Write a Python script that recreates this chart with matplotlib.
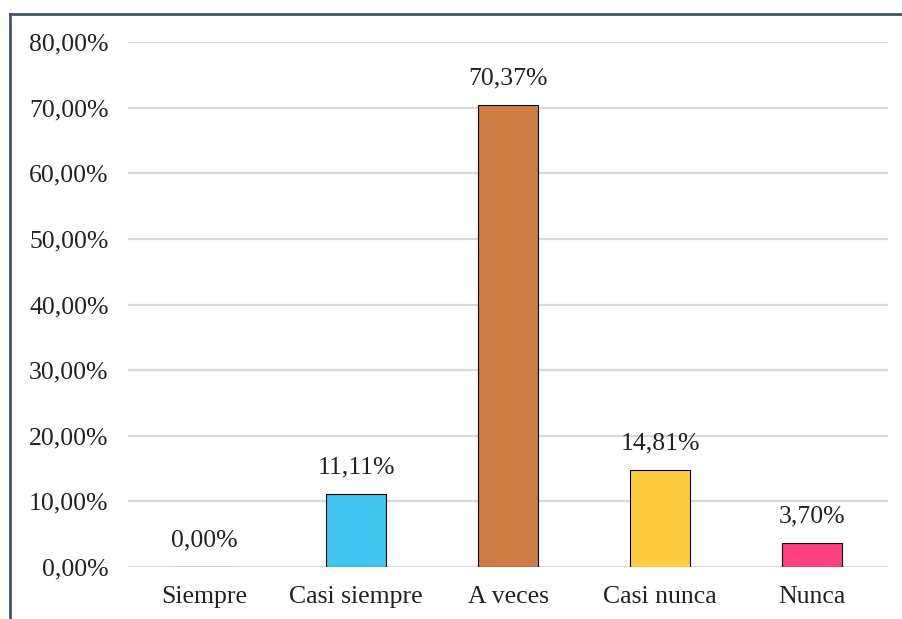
import matplotlib.pyplot as plt
import matplotlib.lines as mlines
from matplotlib.ticker import FuncFormatter

categories = ['Siempre', 'Casi siempre', 'A veces', 'Casi nunca', 'Nunca']
values = [0.00, 11.11, 70.37, 14.81, 3.70]
colors = ['#40C4F0', '#40C4F0', '#D07C45', '#FFCC40', '#FF4080']
y_ticks = [0, 10, 20, 30, 40, 50, 60, 70, 80]


def pct(v, pos=None):
    return ('%.2f%%' % v).replace('.', ',')


def main():
    plt.rcParams['font.family'] = 'Liberation Serif'
    fig = plt.figure(figsize=(9.02, 6.19), dpi=100)
    ax = fig.add_axes([0.1419, 0.084, 0.8426, 0.8481])

    xs = range(len(categories))
    ax.bar(xs, values, width=0.395, color=colors, edgecolor='black', linewidth=0.8, zorder=3)
    for x, v in zip(xs, values):
        ax.annotate(pct(v), (x, v), xytext=(0, 11), textcoords='offset points',
                    ha='center', va='bottom', fontsize=18.5, color='#222222')

    ax.set_xlim(-0.5, len(categories) - 0.5)
    ax.set_ylim(0, 80)
    ax.set_yticks(y_ticks)
    ax.yaxis.set_major_formatter(FuncFormatter(pct))
    ax.set_xticks(list(xs))
    ax.set_xticklabels(categories)
    ax.grid(True, axis='y', color='#D9D9D9', linewidth=1.6, zorder=0)
    ax.tick_params(axis='both', length=0, labelsize=18.5, labelcolor='#222222')
    ax.tick_params(axis='y', pad=14)
    ax.tick_params(axis='x', pad=14)
    for s in ax.spines.values():
        s.set_visible(False)

    # outer frame (only top and left edges visible in the crop)
    fig.add_artist(mlines.Line2D([10 / 902, 10 / 902], [0, 1 - 14 / 619], color='#44546A', linewidth=2))
    fig.add_artist(mlines.Line2D([10 / 902, 1], [1 - 14 / 619, 1 - 14 / 619], color='#44546A', linewidth=2))

    plt.savefig('out.png', dpi=100)


if __name__ == '__main__':
    main()
